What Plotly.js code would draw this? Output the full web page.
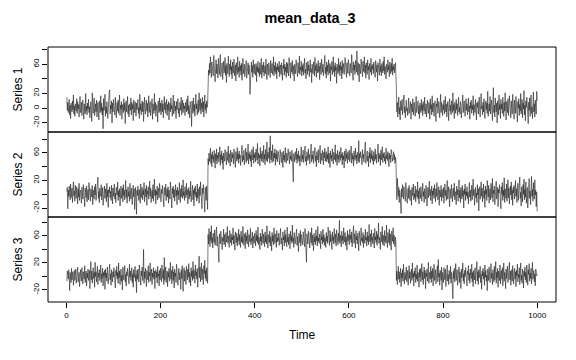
<!DOCTYPE html>
<html>
<head>
<meta charset="utf-8">
<script src="https://cdn.plot.ly/plotly-3.0.1.min.js"></script>
<style>html,body{margin:0;padding:0;background:#fff;}#chart{width:576px;height:360px;}</style>
</head>
<body>
<div id="chart"></div>
<script>
// Series 1 (time 1..1000)
const s1a = [15,-3,8,-6,2,12,-9,4,-14,7,1,-5,10,-2,18,-8,3,-11,6,0,-4,13,-7,9,-1,5,-12,2,16,-6,-3,8,-10,4,11,-2,-15,6,1,-8,20,-4,3,-9,7,-1,12,-6,2,-13,
5,9,-3,-18,21,1,-7,4,14,-10,0,6,-5,11,-12,3,8,-2,-16,10,2,-6,17,-4,7,-9,1,-28,13,-3,5,19,-11,2,-7,9,0,-14,6,3,22,25,-8,4,-1,10,-20,7,-5,12,
-2,3,-9,15,6,-13,1,8,-4,11,-7,2,18,-10,4,-1,9,-15,5,0,-6,13,-3,7,-21,3,10,-5,1,16,-8,4,-12,6,2,-3,14,-9,8,-1,5,-17,11,0,-6,9,3,-11,7,-2,
4,12,-7,1,-14,19,-3,6,-9,2,10,-5,8,-18,3,15,-1,-8,5,11,-4,7,-12,0,17,-6,2,9,-10,4,-2,13,-15,6,1,-7,20,-3,8,-11,3,5,-1,-19,10,2,-6,14,-4,7,
-9,1,11,-5,6,-13,3,16,-2,8,-7,0,12,-10,5,-3,9,-16,2,7,-5,14,-1,4,-11,6,18,-8,1,10,-4,3,-14,9,-2,5,13,-7,0,-12,8,4,-3,15,-9,2,11,-6,7,-1,
3,-10,8,1,-5,12,-3,17,-8,4,0,-13,9,6,-2,-25,10,2,-7,14,-4,5,-11,8,19,-1,6,-9,3,11,-6,21,2,-3,13,-8,7,0,15,-5,9,-12,4,18,-2,6,-7,10,1,5];
const s1b = [38,52,45,61,48,70,55,42,63,50,57,44,72,49,58,36,54,66,47,60,51,41,68,53,46,59,73,43,56,49,62,39,55,64,48,52,69,45,58,35,61,50,47,71,54,43,60,52,66,46,
57,40,63,51,48,67,44,55,59,37,62,53,46,70,49,56,42,64,51,58,45,61,38,54,68,47,52,60,43,57,50,65,41,55,48,62,46,59,53,19,44,56,63,49,58,42,66,51,47,60,
54,45,61,36,57,50,64,48,55,43,62,52,46,68,41,56,59,49,63,44,53,58,47,67,50,39,60,54,45,62,51,57,42,65,48,55,61,46,53,70,44,58,50,63,47,56,40,61,52,57,
49,64,43,55,59,46,62,51,38,58,54,67,45,60,50,56,42,63,48,61,53,44,69,52,57,41,62,49,55,65,46,58,51,37,60,54,47,66,50,59,43,62,55,48,71,46,56,52,64,44,
58,50,61,45,55,68,48,53,40,62,57,46,64,51,59,43,56,66,49,54,35,60,52,47,63,56,44,69,51,58,42,61,54,48,65,50,57,39,62,53,46,67,55,49,60,44,58,52,72,47,
56,41,63,50,59,45,66,53,48,61,37,57,52,64,46,55,70,49,58,43,62,51,56,34,60,54,47,68,50,59,44,63,52,57,40,65,48,55,61,46,53,69,50,58,42,62,55,47,66,51,
57,44,61,53,48,73,50,56,38,63,52,59,46,65,54,49,78,57,45,62,51,36,60,55,47,67,53,58,43,64,50,56,70,48,59,41,62,54,46,66,52,57,39,61,55,49,68,45,58,53,
60,47,63,51,56,42,65,54,49,59,37,62,52,57,45,67,50,58,44,61,55,48,64,51,70,46,57,53,40,60,56,49,66,52,58,43,63,54,47,61,50,68,45,57,52,60,48,55,62,51];
const s1c = [26,-5,8,-12,3,15,-8,1,-16,10,4,-3,12,-9,6,-1,18,-6,2,-13,7,11,-4,0,-10,5,14,-7,3,-2,9,-15,6,1,-5,13,-9,4,8,-3,-11,2,16,-6,5,-1,10,-8,3,-14,
7,1,-6,12,-3,5,-10,9,0,-4,15,-8,2,6,-12,4,11,-2,-7,8,3,-15,13,-1,5,-9,17,-5,1,7,-11,3,10,-4,-18,6,2,14,-7,0,9,-3,-13,4,19,-6,8,1,-10,5,
-2,11,-8,3,16,-5,6,-12,2,9,-1,-17,7,13,-4,4,-9,10,1,-6,21,-3,5,-14,8,0,-7,12,-2,6,-10,3,15,-5,1,-8,9,4,-13,7,-1,18,-6,2,10,-4,-11,5,13,-3,
6,-9,1,14,-5,3,-15,8,0,11,-7,4,-2,17,-10,5,2,-6,12,-3,-16,7,1,9,-8,4,15,-4,-12,6,20,-1,3,-9,8,-5,13,0,-14,5,10,-2,7,-7,23,-11,2,6,-4,16,
-8,3,11,-3,-17,9,28,-6,4,-12,14,1,-5,7,-20,10,2,-9,18,-2,5,-14,12,-1,6,-7,15,3,-11,8,-4,21,0,-16,9,4,-6,13,-10,2,17,-3,7,-13,10,1,-8,19,-5,4,
-15,11,3,-7,16,-2,6,-19,9,0,13,-10,5,-4,20,-8,2,12,-13,7,-1,24,-9,4,-17,10,1,15,-6,3,-21,8,-3,14,-11,5,18,-7,2,-14,9,22,-5,6,-12,11,1,-8,23,10];

// Series 2
const s2a = [4,10,-21,6,-3,12,1,-8,15,-5,3,9,-12,7,18,-2,5,-10,13,0,-6,11,2,-14,8,-4,16,-9,3,6,-1,-13,10,4,-7,14,-3,1,-18,9,5,-5,12,-11,2,7,-8,17,-2,4,
-10,8,1,-4,13,-15,6,3,-7,11,-1,15,-9,2,7,19,25,-6,4,-12,9,0,-3,14,-8,5,10,-16,3,-2,12,-6,8,1,-11,16,-4,6,-19,7,2,11,-5,4,-9,13,0,-14,9,-3,
6,15,-7,2,-12,10,4,-1,18,-9,5,-4,8,-17,3,12,-6,1,9,-11,14,-2,6,-8,3,20,-5,7,-13,0,11,-3,4,-10,16,2,-7,9,-1,-15,5,13,-4,8,-22,3,10,-6,-29,6,
-2,12,4,-9,7,1,-13,15,-5,3,10,-8,6,-1,17,-11,2,8,-4,13,-16,5,0,11,-7,4,19,-3,9,-12,1,6,-6,14,-10,3,22,-2,7,-14,5,-1,12,-8,2,9,-5,16,-3,4,
-11,7,1,13,-6,3,-18,10,5,-2,15,-9,0,8,-4,11,-13,6,2,-7,18,-1,4,-20,9,1,12,-5,7,-10,3,14,-3,6,-15,10,-1,5,-8,17,2,-12,8,-4,13,0,-6,21,-2,4,
-9,11,3,-5,16,-1,7,-14,2,10,-7,5,-3,19,-11,4,1,13,-8,6,-17,9,0,12,-4,3,-10,15,-6,8,2,-13,11,-2,18,-7,4,-21,9,1,14,-5,6,-26,10,3,-9,12,-4,-22];
const s2b = [52,43,60,48,55,67,45,58,40,62,51,56,46,64,53,38,59,49,66,44,57,52,61,47,54,69,42,58,50,63,45,56,36,60,53,48,65,51,57,43,62,49,55,70,46,59,52,41,64,54,
47,61,53,58,44,66,50,56,39,62,55,48,68,51,59,45,63,52,57,42,60,54,71,47,56,50,64,43,58,53,67,46,61,49,55,73,44,59,52,62,48,57,40,65,54,50,69,45,58,53,
61,47,66,55,50,74,44,60,53,57,41,68,52,59,48,63,55,46,71,51,58,43,65,54,49,76,47,61,56,52,68,45,85,58,50,63,46,72,55,48,60,53,66,42,59,51,64,47,57,62,
49,56,43,65,52,58,46,61,54,39,63,50,57,47,68,53,45,60,55,49,66,52,58,44,62,51,56,48,64,57,37,18,59,53,47,62,55,50,67,45,58,52,63,48,56,41,60,54,69,47,
57,51,64,46,59,53,70,48,55,42,62,56,49,66,52,58,44,61,54,73,47,57,51,63,45,59,53,68,48,56,40,62,55,50,65,46,58,52,71,44,60,54,49,64,57,43,61,53,67,48,
55,62,47,58,51,69,45,60,54,39,63,52,57,48,66,53,44,61,56,50,72,47,59,54,42,64,51,57,46,62,55,49,68,53,58,43,61,50,56,38,63,54,48,66,52,59,45,62,55,50,
64,47,58,53,70,45,60,51,56,41,63,54,49,67,52,57,44,61,55,48,78,46,59,53,62,50,56,43,65,52,58,47,60,54,76,45,57,51,63,48,55,40,61,53,68,46,59,52,64,49,
56,43,62,54,48,66,51,58,45,63,55,73,47,60,52,57,42,64,50,56,69,46,59,53,61,48,55,44,67,52,58,49,62,54,40,60,51,57,46,65,53,59,48,56,62,50,58,45,54,47];
const s2c = [12,-8,23,4,-3,10,-12,6,1,-15,-28,8,-4,14,2,-7,11,-1,5,-10,17,-3,7,-13,3,9,-6,13,0,-9,6,2,-16,10,-2,4,15,-8,1,-5,12,-11,7,3,-4,18,-7,5,-14,9,
1,-6,11,3,-10,7,16,-3,4,-12,8,0,-7,13,2,-17,6,10,-5,3,19,-2,7,-9,1,12,-14,5,-1,9,-6,14,2,-11,8,-3,17,4,-8,0,11,-16,6,2,-4,13,-10,7,1,-5,
10,-13,4,15,-2,6,-9,1,20,-7,3,11,-4,-18,8,2,-6,14,0,-11,5,9,-3,16,-8,4,1,-15,12,-1,7,-10,3,21,-5,6,-12,10,2,-7,13,-3,5,-20,8,0,15,-9,4,-2,
11,-6,3,-14,9,17,-4,6,-10,1,13,-8,5,22,-2,7,-16,4,10,-5,2,-12,14,-1,8,-24,6,11,-7,3,18,-3,9,-11,1,15,-6,5,-19,12,0,7,-9,20,4,-4,13,-13,2,8,
-8,16,3,-5,23,-11,6,1,12,-15,9,-2,19,-7,4,10,-18,7,2,14,-4,5,-21,11,0,17,-9,6,-3,24,-12,8,1,-6,15,-10,4,21,-5,9,-14,3,12,-1,18,-8,6,-16,10,2,
13,-7,4,20,-3,8,-12,1,16,-9,6,-2,25,-6,3,-17,11,5,-11,14,0,22,-8,7,-4,18,-13,4,10,-20,9,2,23,-6,5,-15,12,26,-3,7,-10,17,1,-7,21,-1,6,-18,3,-25];

// Series 3
const s3a = [-7,8,3,-4,10,-2,-21,6,1,-9,12,-5,4,7,-13,2,9,-6,0,11,-10,5,-3,14,-8,1,6,-15,3,10,-1,-7,13,4,-11,7,0,-4,16,-9,2,8,-14,5,-2,11,-6,1,9,-18,
4,22,-5,8,-10,2,13,-3,6,-16,21,0,7,-8,3,15,-12,5,-1,10,-6,2,17,-9,4,-3,12,-14,6,1,9,-19,11,-2,5,-7,14,3,-11,8,0,18,-5,4,-13,10,2,-8,7,-1,
13,-6,3,-17,9,1,15,-4,6,-10,20,-2,8,-12,4,11,-7,2,-20,14,0,-5,9,16,-8,3,-14,7,1,12,-3,5,-11,18,-1,8,-6,2,13,-9,4,-16,10,-2,6,15,-7,3,-24,9,
-4,11,2,-8,17,-1,5,-13,8,1,14,-6,4,40,-10,7,-3,12,0,-15,9,3,-5,16,-9,6,1,20,-7,2,11,-12,5,-1,13,-4,8,-18,3,10,-2,7,-10,15,0,4,-14,9,-5,12,
2,-8,17,5,-3,10,-12,28,-6,3,14,-9,1,8,-15,6,-1,12,-7,4,21,-4,9,-11,2,15,-6,7,-17,11,0,5,-9,18,-2,8,-13,3,12,-5,6,1,-19,10,-3,16,-8,-22,4,13,
-7,9,2,-12,15,4,-5,11,-1,19,-9,6,3,-14,13,0,8,-6,22,-3,10,5,-10,17,1,7,-4,12,-16,9,3,30,-2,14,-8,6,20,-5,11,1,-12,16,4,24,-3,9,-7,13,2,-10];
const s3b = [62,48,71,55,44,66,53,75,49,58,42,64,57,50,69,46,60,54,73,45,59,51,36,21,63,56,48,67,53,61,40,58,52,70,47,62,55,44,65,51,57,74,49,60,53,43,68,56,50,63,
46,59,54,72,48,61,52,39,66,57,50,64,45,58,53,70,47,62,55,43,67,51,59,49,74,54,46,63,57,41,65,52,60,48,69,55,44,62,58,51,71,47,56,53,66,42,60,54,49,64,
57,45,68,53,61,50,73,47,58,55,40,64,52,59,46,70,54,49,63,57,44,66,51,60,48,75,53,42,62,56,50,67,45,59,54,38,65,52,61,47,72,55,49,63,58,43,68,51,57,53,
64,46,60,55,71,48,57,52,39,66,54,59,45,69,50,62,56,44,73,51,58,47,63,55,41,67,53,60,49,76,52,57,43,65,55,48,61,54,70,46,59,51,37,64,57,50,68,45,62,53,
58,47,66,52,60,44,71,55,49,21,63,56,48,67,53,59,42,65,54,50,72,46,61,55,38,64,51,58,47,69,53,60,45,74,52,57,49,63,56,41,67,54,59,48,70,51,62,46,58,55,
43,65,52,60,49,73,54,57,46,68,51,62,55,40,66,53,59,48,71,56,50,63,45,69,54,58,47,64,52,83,49,61,55,44,67,53,60,48,72,57,51,65,46,59,54,39,68,52,62,56,
47,70,55,61,50,66,44,58,53,75,49,63,56,42,68,54,59,48,64,52,38,67,55,60,46,72,53,57,50,65,43,61,56,49,70,54,58,45,66,52,60,47,77,55,51,63,44,69,53,58,
48,64,56,42,71,54,59,50,67,46,62,55,79,49,58,53,40,66,57,51,74,47,61,54,45,68,52,60,49,76,55,43,65,58,50,70,46,63,54,39,67,56,52,72,48,61,55,44,58,50];
const s3c = [-6,8,-12,3,15,-4,7,-9,1,12,-15,5,-2,10,-7,18,0,-11,6,3,-5,14,-8,2,9,-13,4,16,-3,7,-10,1,11,-6,20,-2,5,-14,8,0,13,-9,3,-4,17,-7,6,2,-16,10,
-1,12,-8,4,19,-5,7,-12,2,14,-3,9,-18,5,0,11,-7,3,21,-10,6,1,-4,15,-9,8,-2,12,-14,4,18,-6,2,10,-11,7,-3,16,-8,25,-1,5,-13,9,3,-6,14,-20,6,1,
-9,13,4,-5,11,-15,7,0,17,-7,3,-12,9,1,-4,15,-10,6,2,-17,-33,8,-3,12,-8,4,19,-6,1,10,-13,5,-1,14,-9,7,3,-18,11,-2,6,20,-7,4,-11,9,0,13,-5,2,
-14,8,3,16,-6,5,-10,11,1,-3,18,-8,6,-15,9,2,-5,13,-11,4,0,22,-7,7,-12,10,-2,5,15,-9,3,-19,8,1,12,-4,6,-13,17,-1,9,-7,2,-21,11,4,-6,14,0,-9,
7,19,-3,5,-12,10,1,-8,15,-5,3,22,-10,6,-2,12,-16,8,0,-6,17,-11,4,9,-4,13,-14,2,20,-7,6,1,-18,11,-3,7,15,-9,4,-1,21,-5,8,-13,3,10,-7,16,2,-11,
5,12,-4,7,-15,9,1,18,-8,3,-2,13,-12,6,20,-6,2,-10,11,4,-17,8,0,14,-5,6,-9,17,1,-13,10,3,19,-7,5,-3,12,-11,7,21,-4,2,9,-8,4,-14,11,6,1,3];

const series1 = s1a.concat(s1b, s1c);
const series2 = s2a.concat(s2b, s2c);
const series3 = s3a.concat(s3b, s3c);
const seriesNames = ['Series 1', 'Series 2', 'Series 3'];
const xTicks = [0, 200, 400, 600, 800, 1000];
const yTicks = [-20, 0, 20, 40, 60, 80];
const yTickText1 = ['-20', '0', '20', '', '60', ''];
const yTickText23 = ['-20', '', '20', '', '60', ''];
const chartTitle = 'mean_data_3';
const xTitle = 'Time';

const FONT = 'Liberation Sans, Arial, Helvetica, sans-serif';
const lineStyle = {color: '#1e1e1e', width: 0.6};

const traces = [series1, series2, series3].map((s, i) => ({
  type: 'scatter', mode: 'lines', y: s, x0: 1, dx: 1,
  xaxis: 'x', yaxis: i === 0 ? 'y' : 'y' + (i + 1),
  line: lineStyle, hoverinfo: 'skip', showlegend: false
}));

function yax(domain, range, ticktext) {
  return {
    domain: domain, range: range, tickmode: 'array', tickvals: yTicks, ticktext: ticktext,
    tickangle: -90, ticks: 'outside', ticklen: 5, tickwidth: 1, tickcolor: '#000',
    tickfont: {family: FONT, size: 8, color: '#000'},
    showgrid: false, zeroline: false, showline: false, anchor: 'x', fixedrange: true
  };
}

const doms = [[2/3, 1], [1/3, 2/3], [0, 1/3]];
const layout = {
  width: 576, height: 360,
  margin: {l: 48, r: 20, t: 47, b: 58},
  paper_bgcolor: '#fff', plot_bgcolor: '#fff',
  font: {family: FONT, color: '#000'},
  title: {text: '<b>' + chartTitle + '</b>', font: {family: FONT, size: 14.4, color: '#000'},
          xref: 'container', x: 310/576, xanchor: 'center', yref: 'container', y: 1 - 18/360, yanchor: 'middle'},
  xaxis: {
    range: [-39, 1040], anchor: 'y3', tickmode: 'array', tickvals: xTicks,
    ticks: 'outside', ticklen: 5, tickwidth: 1, tickcolor: '#000',
    tickfont: {family: FONT, size: 8, color: '#000'},
    showgrid: false, zeroline: false, showline: false, fixedrange: true
  },
  yaxis: yax(doms[0], [-32.4, 83.4], yTickText1),
  yaxis2: yax(doms[1], [-33, 90.5], yTickText23),
  yaxis3: yax(doms[2], [-37.8, 88], yTickText23),
  shapes: doms.map(d => ({type: 'rect', xref: 'paper', yref: 'paper', x0: 0, x1: 1, y0: d[0], y1: d[1],
                          line: {color: '#000', width: 1}, fillcolor: 'rgba(0,0,0,0)', layer: 'above'})),
  annotations: seriesNames.map((n, i) => ({
    text: n, xref: 'paper', yref: 'paper', x: 0, y: (doms[i][0] + doms[i][1]) / 2,
    xshift: -31, xanchor: 'center', yanchor: 'middle', textangle: -90, showarrow: false,
    font: {family: FONT, size: 12, color: '#000'}
  })).concat([{
    text: xTitle, xref: 'paper', yref: 'paper', x: 0.5, y: 0, yshift: -33,
    xanchor: 'center', yanchor: 'middle', showarrow: false,
    font: {family: FONT, size: 12, color: '#000'}
  }])
};

Plotly.newPlot('chart', traces, layout, {staticPlot: true, displayModeBar: false});
</script>
</body>
</html>
